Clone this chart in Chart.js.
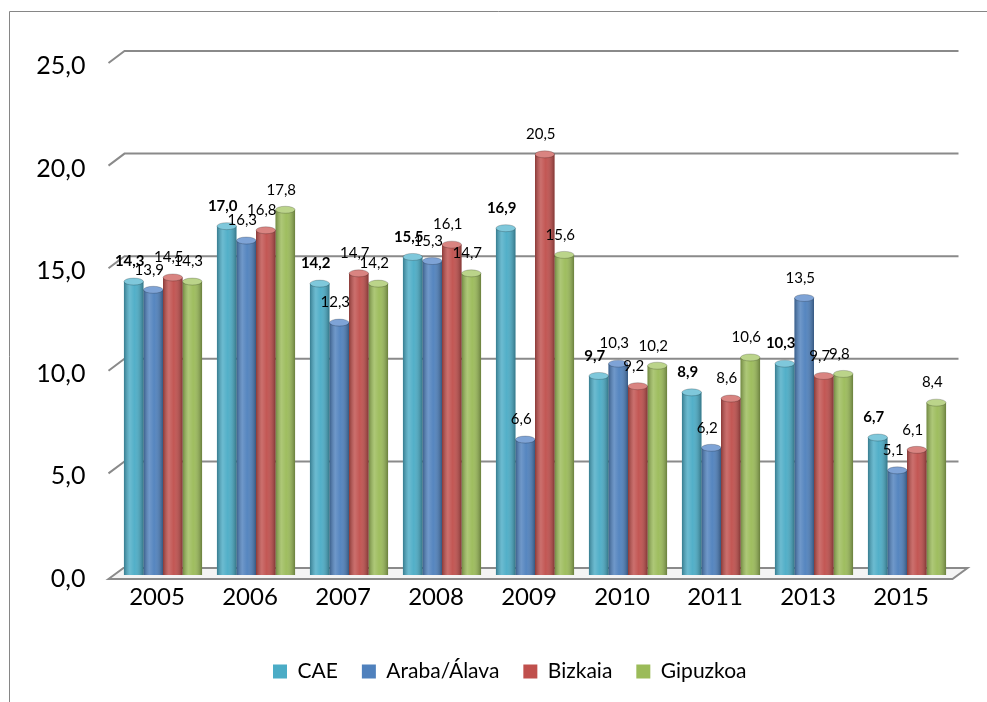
<!DOCTYPE html>
<html>
<head>
<meta charset="utf-8">
<script src="https://cdn.jsdelivr.net/npm/chart.js@4/dist/chart.umd.min.js"></script>
<style>
  html, body { margin: 0; padding: 0; background: #fff; }
  canvas { display: block; }
</style>
</head>
<body>
<canvas id="chart" width="987" height="702"></canvas>
<script>
// Data
const years = ['2005', '2006', '2007', '2008', '2009', '2010', '2011', '2013', '2015'];
const cae = [14.3, 17.0, 14.2, 15.5, 16.9, 9.7, 8.9, 10.3, 6.7];
const araba = [13.9, 16.3, 12.3, 15.3, 6.6, 10.3, 6.2, 13.5, 5.1];
const bizkaia = [14.5, 16.8, 14.7, 16.1, 20.5, 9.2, 8.6, 9.7, 6.1];
const gipuzkoa = [14.3, 17.8, 14.2, 14.7, 15.6, 10.2, 10.6, 9.8, 8.4];
const seriesNames = ['CAE', 'Araba/Álava', 'Bizkaia', 'Gipuzkoa'];
const yMin = 0, yMax = 25, yStep = 5;

const colors = ['#4BACC6', '#4F81BD', '#C0504D', '#9BBB59'];
const capColors = ['#7fc8db', '#7ea3d6', '#d98481', '#bbd48a'];
const FONT = 'Lato, "Open Sans", sans-serif';

const fmt = v => Number(v).toFixed(1).replace('.', ',');

// Frame, back walls, floor, cylinder shading and value labels
const pseudo3d = {
    id: 'pseudo3d',
    afterLayout(chart) {
        // legend sits a little right of centre in the original
        const lg = chart.legend;
        if (lg) { lg.left += 33; lg.right += 33; }
    },
    beforeDatasetsDraw(chart) {
        const ctx = chart.ctx;
        const area = chart.chartArea;
        const y = chart.scales.y;
        ctx.save();
        ctx.strokeStyle = '#8a8a8a';
        ctx.lineWidth = 2;
        for (let v = yMin + yStep; v <= yMax; v += yStep) {
            const py = y.getPixelForValue(v);
            ctx.beginPath();
            ctx.moveTo(area.left - 8, py + 1);
            ctx.lineTo(area.left + 8, py - 11);
            ctx.lineTo(area.right + 5, py - 11);
            ctx.stroke();
        }
        // floor
        const p0 = y.getPixelForValue(yMin);
        ctx.beginPath();
        ctx.moveTo(area.left - 8, p0 + 4);
        ctx.lineTo(area.left + 7, p0 - 7);
        ctx.lineTo(area.right + 14, p0 - 7);
        ctx.lineTo(area.right - 1, p0 + 4);
        ctx.closePath();
        ctx.fillStyle = '#f4f4f4';
        ctx.fill();
        ctx.stroke();
        ctx.restore();
    },
    afterDatasetsDraw(chart) {
        const ctx = chart.ctx;
        ctx.save();
        chart.data.datasets.forEach((ds, di) => {
            const meta = chart.getDatasetMeta(di);
            meta.data.forEach(bar => {
                const w = bar.width, x0 = bar.x - w / 2;
                const g = ctx.createLinearGradient(x0, 0, x0 + w, 0);
                g.addColorStop(0, 'rgba(0,0,0,0.28)');
                g.addColorStop(0.3, 'rgba(255,255,255,0.18)');
                g.addColorStop(0.55, 'rgba(255,255,255,0.04)');
                g.addColorStop(1, 'rgba(0,0,0,0.32)');
                ctx.fillStyle = g;
                ctx.fillRect(x0, bar.y, w, bar.base - bar.y);
                // top cap
                ctx.beginPath();
                ctx.ellipse(bar.x, bar.y, w / 2, 3.5, 0, 0, Math.PI * 2);
                ctx.fillStyle = capColors[di];
                ctx.fill();
                ctx.strokeStyle = 'rgba(0,0,0,0.2)';
                ctx.lineWidth = 1;
                ctx.stroke();
            });
        });
        // value labels
        ctx.fillStyle = '#000';
        ctx.textAlign = 'center';
        ctx.textBaseline = 'middle';
        chart.data.datasets.forEach((ds, di) => {
            const meta = chart.getDatasetMeta(di);
            ctx.font = (di === 0 ? 'bold ' : '') + '15px ' + FONT;
            meta.data.forEach((bar, i) => {
                ctx.fillText(fmt(ds.data[i]), bar.x - 4, bar.y - 20);
            });
        });
        ctx.restore();
    },
    afterDraw(chart) {
        const ctx = chart.ctx;
        ctx.save();
        ctx.strokeStyle = '#868686';
        ctx.lineWidth = 1;
        ctx.beginPath();
        ctx.moveTo(9.5, chart.height);
        ctx.lineTo(9.5, 11.5);
        ctx.lineTo(chart.width, 11.5);
        ctx.stroke();
        ctx.restore();
    }
};

const series = [cae, araba, bizkaia, gipuzkoa];

new Chart(document.getElementById('chart'), {
    type: 'bar',
    data: {
        labels: years,
        datasets: series.map((data, i) => ({
            label: seriesNames[i],
            data: data,
            backgroundColor: colors[i],
            borderWidth: 0,
            categoryPercentage: 0.84,
            barPercentage: 1.0
        }))
    },
    options: {
        responsive: false,
        animation: false,
        layout: { padding: { left: 0, right: 33.5, top: 62, bottom: 10 } },
        plugins: {
            legend: {
                position: 'bottom',
                labels: {
                    boxWidth: 14,
                    boxHeight: 14,
                    padding: 24,
                    color: '#000',
                    font: { family: FONT, size: 21 }
                }
            },
            tooltip: { enabled: false }
        },
        scales: {
            x: {
                grid: { display: false },
                border: { display: false },
                ticks: { color: '#000', padding: 0, labelOffset: -6, font: { family: FONT, size: 24 } },
                afterFit: s => { s.height = 62; }
            },
            y: {
                min: yMin,
                max: yMax,
                grid: { display: false },
                border: { display: false },
                ticks: {
                    stepSize: yStep,
                    color: '#000',
                    padding: 23,
                    labelOffset: 4,
                    font: { family: FONT, size: 25 },
                    callback: v => fmt(v)
                },
                afterFit: s => { s.width = 116.5; }
            }
        }
    },
    plugins: [pseudo3d]
});
</script>
</body>
</html>
